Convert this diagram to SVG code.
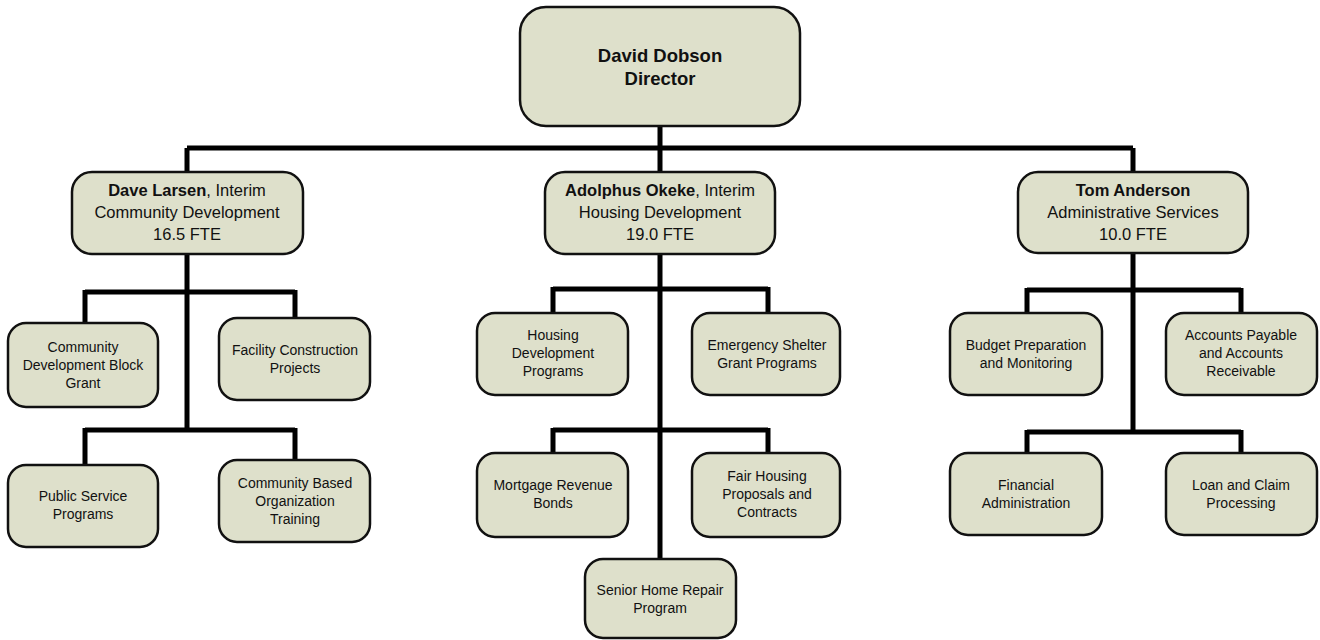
<svg xmlns="http://www.w3.org/2000/svg" width="1320" height="640" viewBox="0 0 1320 640">
<style>
.box{fill:#dee0cb;stroke:#111;stroke-width:2.5}
.c{fill:none;stroke:#000;stroke-width:5;stroke-linecap:butt}
text{font-family:"Liberation Sans",Arial,sans-serif;fill:#111;text-anchor:middle}
.d{font-size:18.5px;font-weight:bold}
.m{font-size:16.5px}
.s{font-size:14px}
.b{font-weight:bold}
</style>
<rect width="1320" height="640" fill="#fff"/>
<g id="connectors">
<path class="c" d="M660,126 V148 M187,148 H1133 M187,148 V172 M660,148 V172 M1133,148 V172"/>
<path class="c" d="M187,254 V430 M85,292 H295 M85,290 V323 M295,290 V318 M85,430 H295 M85,428 V465 M295,428 V460"/>
<path class="c" d="M660,254 V559 M553,289 H768 M553,287 V313 M768,287 V313 M553,430 H768 M553,428 V453 M768,428 V453"/>
<path class="c" d="M1133,253 V432 M1027,290 H1241 M1027,288 V313 M1241,288 V313 M1027,432 H1241 M1027,430 V453 M1241,430 V453"/>
</g>
<g id="director"><rect class="box" x="520" y="7" width="280" height="119" rx="26"/><text class="d" x="660" y="62">David Dobson</text><text class="d" x="660" y="85">Director</text></g>
<g id="larsen"><rect class="box" x="72" y="172" width="231" height="82" rx="20"/><text class="m" x="187" y="196"><tspan class="b">Dave Larsen</tspan>, Interim</text><text class="m" x="187" y="218">Community Development</text><text class="m" x="187" y="240">16.5 FTE</text></g>
<g id="okeke"><rect class="box" x="545" y="172" width="230" height="82" rx="20"/><text class="m" x="660" y="196"><tspan class="b">Adolphus Okeke</tspan>, Interim</text><text class="m" x="660" y="218">Housing Development</text><text class="m" x="660" y="240">19.0 FTE</text></g>
<g id="anderson"><rect class="box" x="1018" y="172" width="230" height="81" rx="20"/><text class="m" x="1133" y="196" font-weight="bold">Tom Anderson</text><text class="m" x="1133" y="218">Administrative Services</text><text class="m" x="1133" y="240">10.0 FTE</text></g>
<g id="cdbg"><rect class="box" x="8" y="323" width="150" height="84" rx="18"/><text class="s" x="83" y="352">Community</text><text class="s" x="83" y="370">Development Block</text><text class="s" x="83" y="388">Grant</text></g>
<g id="facility"><rect class="box" x="219" y="318" width="151" height="82" rx="18"/><text class="s" x="295" y="355">Facility Construction</text><text class="s" x="295" y="373">Projects</text></g>
<g id="public"><rect class="box" x="8" y="465" width="150" height="82" rx="18"/><text class="s" x="83" y="501">Public Service</text><text class="s" x="83" y="519">Programs</text></g>
<g id="cbo"><rect class="box" x="219" y="460" width="151" height="82" rx="18"/><text class="s" x="295" y="488">Community Based</text><text class="s" x="295" y="506">Organization</text><text class="s" x="295" y="524">Training</text></g>
<g id="housingdev"><rect class="box" x="477" y="313" width="151" height="82" rx="18"/><text class="s" x="553" y="340">Housing</text><text class="s" x="553" y="358">Development</text><text class="s" x="553" y="376">Programs</text></g>
<g id="emergency"><rect class="box" x="692" y="313" width="148" height="82" rx="18"/><text class="s" x="767" y="350">Emergency Shelter</text><text class="s" x="767" y="368">Grant Programs</text></g>
<g id="mortgage"><rect class="box" x="477" y="453" width="151" height="84" rx="18"/><text class="s" x="553" y="490">Mortgage Revenue</text><text class="s" x="553" y="508">Bonds</text></g>
<g id="fair"><rect class="box" x="692" y="453" width="148" height="84" rx="18"/><text class="s" x="767" y="481">Fair Housing</text><text class="s" x="767" y="499">Proposals and</text><text class="s" x="767" y="517">Contracts</text></g>
<g id="senior"><rect class="box" x="585" y="559" width="151" height="79" rx="18"/><text class="s" x="660" y="595">Senior Home Repair</text><text class="s" x="660" y="613">Program</text></g>
<g id="budget"><rect class="box" x="950" y="313" width="152" height="82" rx="18"/><text class="s" x="1026" y="350">Budget Preparation</text><text class="s" x="1026" y="368">and Monitoring</text></g>
<g id="accounts"><rect class="box" x="1166" y="313" width="151" height="82" rx="18"/><text class="s" x="1241" y="340">Accounts Payable</text><text class="s" x="1241" y="358">and Accounts</text><text class="s" x="1241" y="376">Receivable</text></g>
<g id="financial"><rect class="box" x="950" y="453" width="152" height="82" rx="18"/><text class="s" x="1026" y="490">Financial</text><text class="s" x="1026" y="508">Administration</text></g>
<g id="loan"><rect class="box" x="1166" y="453" width="151" height="82" rx="18"/><text class="s" x="1241" y="490">Loan and Claim</text><text class="s" x="1241" y="508">Processing</text></g>
</svg>
